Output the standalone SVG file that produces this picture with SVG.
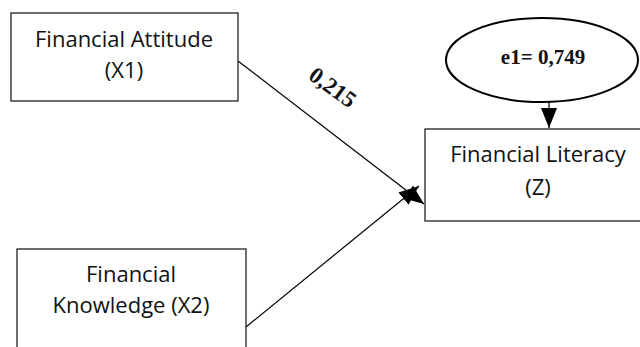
<svg xmlns="http://www.w3.org/2000/svg" width="640" height="347" viewBox="0 0 640 347">
<style>
.box{fill:#fff;stroke:#222;stroke-width:1.3}
.t{font-family:"Open Sans","Liberation Sans",sans-serif;font-size:22px;fill:#111;text-anchor:middle}
.b{font-family:"Liberation Serif","Times New Roman",serif;font-weight:bold;font-size:21px;fill:#111;text-anchor:middle}
.c{stroke:#000;stroke-width:1.2;fill:none}
</style>
<defs>
<marker id="ah2" viewBox="0 0 10 10" refX="10" refY="5" markerWidth="20" markerHeight="20" markerUnits="userSpaceOnUse" orient="auto">
<path d="M0,1 L10,5 L0,9 z" fill="#000"/>
</marker>
</defs>
<g id="connectors">
<line class="c" x1="238" y1="61" x2="424" y2="204" marker-end="url(#ah2)"/>
<line class="c" x1="246" y1="327" x2="419" y2="186" marker-end="url(#ah2)"/>
<line class="c" x1="549" y1="102" x2="549" y2="128" marker-end="url(#ah2)"/>
<text class="b" transform="translate(333 87) rotate(36)" x="0" y="8" style="font-size:23px">0,215</text>
</g>
<g id="x1">
<rect class="box" x="11" y="13" width="227" height="88"/>
<text class="t" x="124" y="47">Financial Attitude</text>
<text class="t" x="124" y="78">(X1)</text>
</g>
<g id="x2">
<rect class="box" x="17" y="249" width="229" height="110"/>
<text class="t" x="131" y="282">Financial</text>
<text class="t" x="131" y="313">Knowledge (X2)</text>
</g>
<g id="z">
<rect class="box" x="425" y="129" width="230" height="92"/>
<text class="t" x="538" y="162">Financial Literacy</text>
<text class="t" x="538" y="195">(Z)</text>
</g>
<g id="e1">
<ellipse cx="542" cy="60" rx="96" ry="42" fill="#fff" stroke="#000" stroke-width="2"/>
<text class="b" x="543" y="64">e1= 0,749</text>
</g>
</svg>
